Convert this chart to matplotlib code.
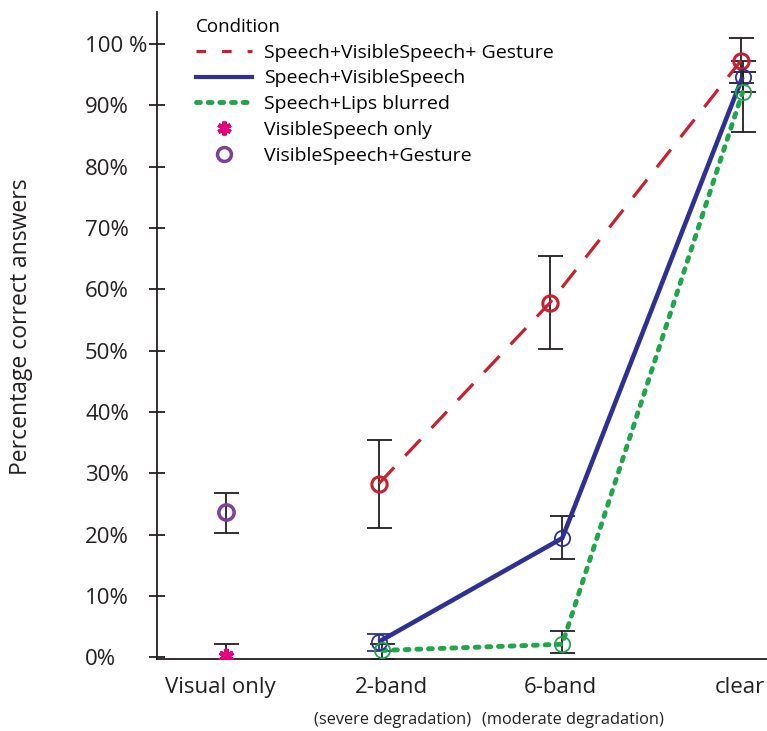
import matplotlib
matplotlib.use("Agg")
import matplotlib.pyplot as plt
from matplotlib.lines import Line2D

plt.rcParams['font.family'] = ['Open Sans', 'DejaVu Sans']

# categories and their places on the x axis (the original spacing is uneven)
conditions = ['Visual only', '2-band', '6-band', 'clear']
cond_x = [0.0, 1.0, 2.2, 3.38]
subtitles = ['', '(severe degradation)', '(moderate degradation)', '']

# Speech+VisibleSpeech+ Gesture (2-band, 6-band, clear)
svsg_x = [1.0, 2.12, 3.37]
svsg = [28.3, 57.8, 97.3]
svsg_lo = [21.0, 50.2, 93.6]
svsg_hi = [35.4, 65.4, 101.0]

# Speech+VisibleSpeech
svs_x = [1.0, 2.2, 3.38]
svs = [2.5, 19.4, 94.6]
svs_lo = [1.0, 16.0, 92.1]
svs_hi = [3.7, 23.0, 97.2]

# Speech+Lips blurred
slb_x = [1.02, 2.2, 3.38]
slb = [1.1, 2.1, 92.1]
slb_lo = [-0.3, 0.6, 85.7]
slb_hi = [2.2, 4.2, 95.5]

# visual only conditions
vs_only, vs_only_lo, vs_only_hi = 0.2, -1.1, 2.1
vsg, vsg_lo, vsg_hi = 23.6, 20.3, 26.8

red = '#c8202f'
blue = '#2e3192'
green = '#1fa64a'
purple = '#7f3f98'
magenta = '#e6007e'
ink = '#231f20'

fig = plt.figure(figsize=(7.67, 7.31), dpi=100)
ax = fig.add_axes([0.205, 0.0985, 0.795, 0.885])


def err(vals, lo, hi):
    return [[v - l for v, l in zip(vals, lo)], [h - v for v, h in zip(vals, hi)]]


eb = dict(fmt='none', ecolor=ink, elinewidth=1.3, capsize=9, capthick=1.3, zorder=2)
ax.errorbar(svsg_x, svsg, yerr=err(svsg, svsg_lo, svsg_hi), **eb)
ax.errorbar(slb_x, slb, yerr=err(slb, slb_lo, slb_hi), **eb)
ax.errorbar(svs_x[1:], svs[1:], yerr=err(svs[1:], svs_lo[1:], svs_hi[1:]), **eb)
ax.errorbar(svs_x[:1], svs[:1], yerr=err(svs[:1], svs_lo[:1], svs_hi[:1]),
            fmt='none', ecolor=blue, elinewidth=1.3, capsize=9, capthick=1.3, zorder=2)
ax.errorbar([cond_x[0]], [vsg], yerr=[[vsg - vsg_lo], [vsg_hi - vsg]], **eb)
ax.errorbar([cond_x[0]], [vs_only], yerr=[[vs_only - vs_only_lo], [vs_only_hi - vs_only]], **eb)

ax.plot(svsg_x, svsg, color=red, lw=2.3, dashes=(7, 5), zorder=3)
ax.plot(svsg_x, svsg, 'o', ms=11, mfc='none', mec=red, mew=2.2, zorder=4)
ax.plot(svs_x, svs, color=blue, lw=3.3, solid_capstyle='butt', zorder=3)
ax.plot(svs_x, svs, 'o', ms=11, mfc='none', mec=blue, mew=1.3, zorder=4)
ax.plot(slb_x, slb, color=green, lw=3.5, linestyle=(0, (0.8, 1.6)),
        dash_capstyle='round', zorder=3)
ax.plot(slb_x, slb, 'o', ms=11, mfc='none', mec=green, mew=1.3, zorder=4)
ax.plot([cond_x[0]], [vsg], 'o', ms=11, mfc='none', mec=purple, mew=2.5, zorder=4)
ax.plot([cond_x[0]], [vs_only], marker=(6, 2, 0), ms=11, color=magenta, mew=3.2, zorder=4)

ax.set_xlim(-0.45, 3.54)
ax.set_ylim(-0.3, 105.2)
ax.spines['top'].set_visible(False)
ax.spines['right'].set_visible(False)
for s in ('left', 'bottom'):
    ax.spines[s].set_color(ink)
    ax.spines[s].set_linewidth(1.3)

yticks = list(range(0, 101, 10))
ax.set_yticks(yticks)
ax.set_yticklabels([f'{t}%' if t < 100 else '100 %' for t in yticks])
ax.tick_params(axis='y', direction='inout', length=12, width=1.3, color=ink,
               labelsize=16, labelcolor=ink, pad=46)
for lab in ax.get_yticklabels():
    lab.set_horizontalalignment('left')

# category labels sit slightly off the points in the original
label_x = [-0.04, 1.08, 2.19, 3.36]
sub_x = [0.0, 1.09, 2.27, 3.36]
ax.set_xticks(label_x)
ax.set_xticklabels(conditions)
ax.tick_params(axis='x', length=0, labelsize=16, labelcolor=ink, pad=13)
for x, s in zip(sub_x, subtitles):
    if s:
        ax.text(x, -0.094, s, transform=ax.get_xaxis_transform(), ha='center', va='center',
                fontsize=11.8, color=ink)

ax.set_ylabel('Percentage correct answers', fontsize=16.5, color=ink)
ax.yaxis.set_label_coords(-0.203, 0.513)

handles = [
    Line2D([], [], color=red, lw=2.3, dashes=(3, 5)),
    Line2D([], [], color=blue, lw=3),
    Line2D([], [], color=green, lw=3.5, linestyle=(0, (0.8, 1.6)), dash_capstyle='round'),
    Line2D([], [], ls='none', marker=(6, 2, 0), ms=10, color=magenta, mew=3),
    Line2D([], [], ls='none', marker='o', ms=10, mfc='none', mec=purple, mew=2.5),
]
labels = ['Speech+VisibleSpeech+ Gesture', 'Speech+VisibleSpeech', 'Speech+Lips blurred',
          'VisibleSpeech only', 'VisibleSpeech+Gesture']
leg = ax.legend(handles, labels, title='Condition', loc='upper left', bbox_to_anchor=(0.035, 1.018),
                frameon=False, fontsize=14, title_fontsize=13.5, handlelength=2.9,
                handletextpad=0.6, labelspacing=0.4, alignment='left')

fig.savefig('out.png', dpi=100)
